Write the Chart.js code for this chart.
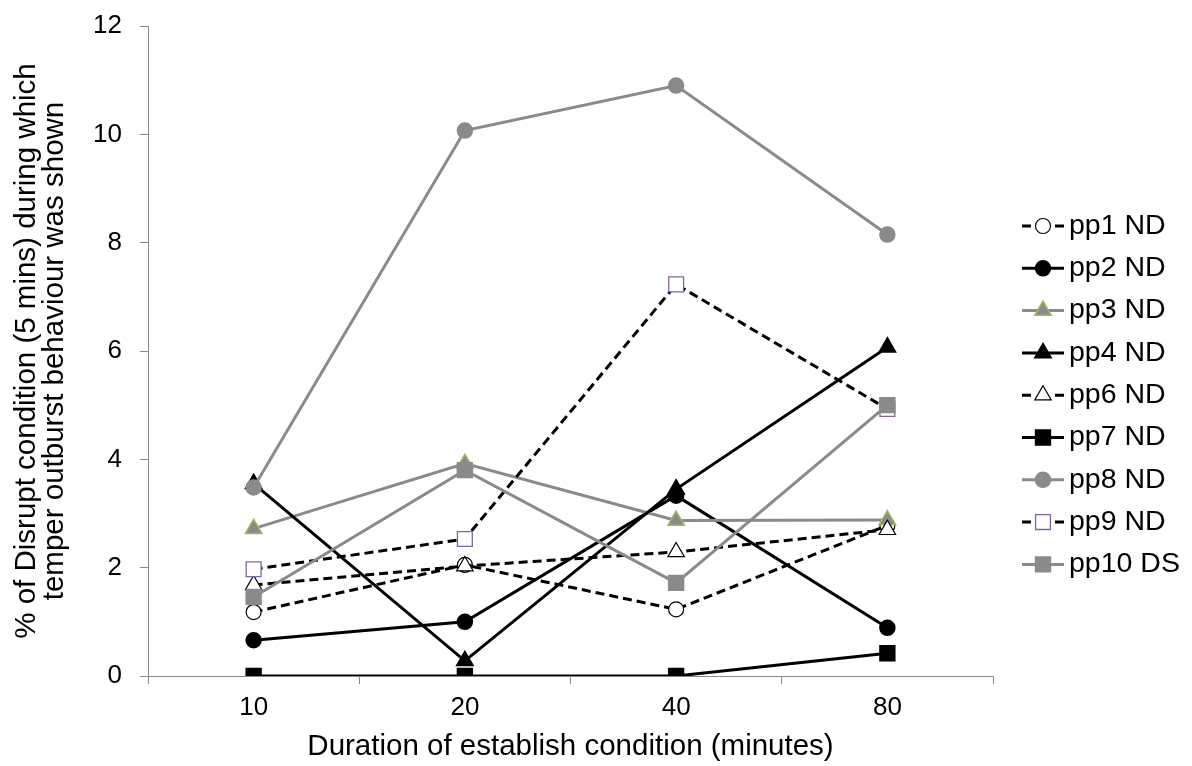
<!DOCTYPE html>
<html>
<head>
<meta charset="utf-8">
<script src="https://cdn.jsdelivr.net/npm/chart.js@4.4.1/dist/chart.umd.min.js"></script>
<style>
  html, body { margin: 0; padding: 0; background: #fff; }
  #wrap { width: 1192px; height: 766px; }
</style>
</head>
<body>
<div id="wrap"><canvas id="chart" width="1192" height="766"></canvas></div>
<script>
const categories = ['10', '20', '40', '80'];

const pp1 = [1.18, 2.05, 1.23, 2.78];
const pp2 = [0.66, 1.0, 3.33, 0.89];
const pp3 = [2.72, 3.92, 2.87, 2.88];
const pp4 = [3.55, 0.28, 3.45, 6.07];
const pp6 = [1.68, 2.03, 2.29, 2.7];
const pp7 = [0, 0, 0, 0.42];
const pp8 = [3.48, 10.07, 10.9, 8.15];
const pp9 = [1.97, 2.53, 7.23, 4.93];
const pp10 = [1.46, 3.8, 1.72, 5.0];

const FONT = "'Liberation Sans', Arial, sans-serif";
const GREY = '#8a8a8a';
const DASH = [9, 5];

function series(label, data, o) {
    return {
        label: label,
        data: data,
        borderColor: o.line,
        borderWidth: 3,
        borderDash: o.dash ? DASH : [],
        pointStyle: o.style,
        pointRadius: o.radius,
        pointHoverRadius: o.radius,
        pointBackgroundColor: o.fill,
        pointBorderColor: o.edge,
        pointBorderWidth: o.edgeWidth || 1.5,
        tension: 0,
        fill: false,
    };
}

const datasets = [
    series('pp1 ND', pp1, { line: '#000', dash: true, style: 'circle', radius: 7.5, fill: '#fff', edge: '#000', edgeWidth: 1.2 }),
    series('pp2 ND', pp2, { line: '#000', style: 'circle', radius: 7.5, fill: '#000', edge: '#000' }),
    series('pp3 ND', pp3, { line: GREY, style: 'triangle', radius: 9.5, fill: GREY, edge: '#9bbb59' }),
    series('pp4 ND', pp4, { line: '#000', style: 'triangle', radius: 9.5, fill: '#000', edge: '#000' }),
    series('pp6 ND', pp6, { line: '#000', dash: true, style: 'triangle', radius: 9.5, fill: '#fff', edge: '#000', edgeWidth: 1.2 }),
    series('pp7 ND', pp7, { line: '#000', style: 'rect', radius: 10.5, fill: '#000', edge: '#000' }),
    series('pp8 ND', pp8, { line: GREY, style: 'circle', radius: 7.5, fill: GREY, edge: GREY }),
    series('pp9 ND', pp9, { line: '#000', dash: true, style: 'rect', radius: 10.5, fill: '#fff', edge: '#8064a2', edgeWidth: 1.3 }),
    series('pp10 DS', pp10, { line: GREY, style: 'rect', radius: 10.5, fill: GREY, edge: GREY }),
];
// later series sit on top, as in the original
datasets.forEach((d, i) => { d.order = datasets.length - i; });

const sideLegend = {
    id: 'sideLegend',
    afterDraw(chart) {
        const ctx = chart.ctx;
        const x0 = 1022, x1 = 1064, mx = 1043, tx = 1069;
        ctx.save();
        chart.data.datasets.forEach((d, i) => {
            const y = 226 + i * 42.3;
            ctx.strokeStyle = d.borderColor;
            ctx.lineWidth = 3;
            ctx.setLineDash([]);
            ctx.beginPath();
            if (d.borderDash.length) {
                ctx.moveTo(x0, y); ctx.lineTo(x0 + 9, y);
                ctx.moveTo(x1 - 9, y); ctx.lineTo(x1, y);
            } else {
                ctx.moveTo(x0, y); ctx.lineTo(x1, y);
            }
            ctx.stroke();
            ctx.fillStyle = d.pointBackgroundColor;
            ctx.strokeStyle = d.pointBorderColor;
            ctx.lineWidth = d.pointBorderWidth;
            Chart.helpers.drawPoint(ctx, {
                pointStyle: d.pointStyle,
                radius: d.pointRadius,
                rotation: 0,
                borderWidth: d.pointBorderWidth,
            }, mx, y);
            ctx.fillStyle = '#000';
            ctx.font = '28.5px ' + FONT;
            ctx.textBaseline = 'middle';
            ctx.textAlign = 'left';
            ctx.fillText(d.label, tx, y);
        });
        ctx.restore();
    },
};

new Chart(document.getElementById('chart').getContext('2d'), {
    type: 'line',
    data: {
        labels: categories,
        datasets: datasets,
    },
    options: {
        responsive: false,
        animation: false,
        layout: {
            padding: { top: 26, right: 199, left: 0, bottom: 0 },
        },
        plugins: {
            legend: { display: false },
            tooltip: { enabled: false },
        },
        scales: {
            x: {
                type: 'category',
                offset: true,
                grid: {
                    offset: true,
                    drawOnChartArea: false,
                    drawTicks: true,
                    tickLength: 8,
                    color: '#888',
                },
                border: { color: '#888', width: 1 },
                ticks: {
                    color: '#000',
                    padding: 8,
                    font: { family: FONT, size: 26 },
                },
                title: {
                    display: true,
                    text: 'Duration of establish condition (minutes)',
                    color: '#000',
                    font: { family: FONT, size: 29.5 },
                    padding: { top: 0, bottom: 1 },
                },
                afterFit(scale) { scale.height = 90; },
            },
            y: {
                min: 0,
                max: 12,
                grid: {
                    drawOnChartArea: false,
                    drawTicks: true,
                    tickLength: 8,
                    color: '#888',
                },
                border: { color: '#888', width: 1 },
                ticks: {
                    stepSize: 2,
                    color: '#000',
                    padding: 18,
                    font: { family: FONT, size: 26 },
                },
                title: {
                    display: true,
                    text: ['% of Disrupt condition (5 mins) during which', 'temper outburst behaviour was shown'],
                    color: '#000',
                    font: { family: FONT, size: 29.5, lineHeight: 0.95 },
                    padding: { top: 13, bottom: 0 },
                },
                afterFit(scale) {
                    scale.width = 148;
                    scale.paddingTop = 0;
                    scale.paddingBottom = 0;
                },
            },
        },
    },
    plugins: [sideLegend],
});
</script>
</body>
</html>
